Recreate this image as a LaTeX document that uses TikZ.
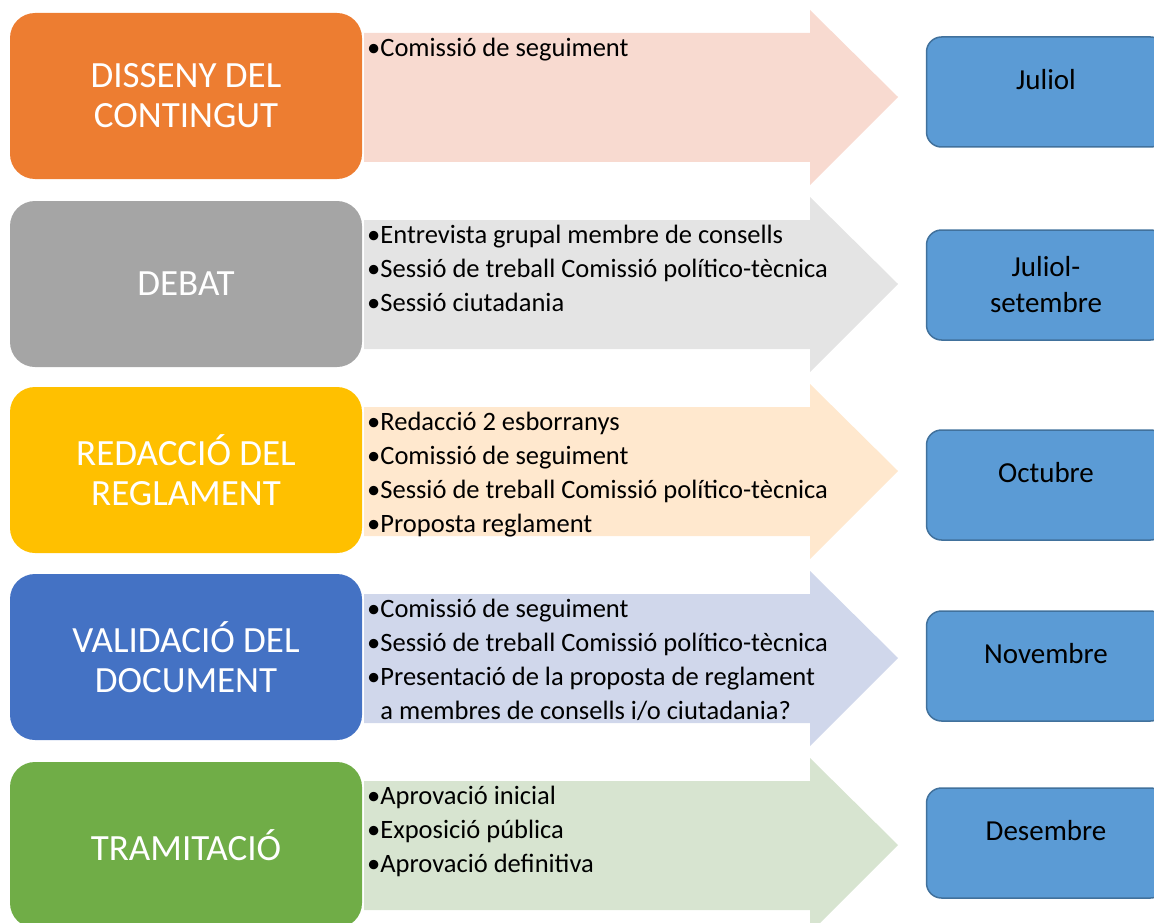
\documentclass[tikz,border=0pt]{standalone}
\usepackage{fontspec}
\setmainfont{Carlito}
\usetikzlibrary{positioning}
\definecolor{phaseO}{HTML}{ED7D31}
\definecolor{phaseG}{HTML}{A5A5A5}
\definecolor{phaseY}{HTML}{FFC000}
\definecolor{phaseB}{HTML}{4472C4}
\definecolor{phaseV}{HTML}{70AD47}
\definecolor{bodyO}{HTML}{F8DAD0}
\definecolor{bodyG}{HTML}{E4E4E4}
\definecolor{bodyY}{HTML}{FFE8CE}
\definecolor{bodyB}{HTML}{D0D7EB}
\definecolor{bodyV}{HTML}{D7E4D0}
\definecolor{monthFill}{HTML}{5B9BD5}
\definecolor{monthLine}{HTML}{41719C}
\tikzstyle{phaseNode} = [rectangle, minimum width=352pt, minimum height=166pt, rounded corners=25pt, text=white, align=center, font=\fontsize{37}{40}\selectfont]
\tikzstyle{phaseNodeO} = [phaseNode, fill=phaseO]
\tikzstyle{phaseNodeG} = [phaseNode, fill=phaseG]
\tikzstyle{phaseNodeY} = [phaseNode, fill=phaseY]
\tikzstyle{phaseNodeB} = [phaseNode, fill=phaseB]
\tikzstyle{phaseNodeV} = [phaseNode, fill=phaseV]
\tikzstyle{monthNode} = [rectangle, minimum width=239pt, minimum height=110pt, rounded corners=15pt, draw=monthLine, line width=1.5pt, fill=monthFill, align=center, font=\fontsize{29}{36}\selectfont]
\tikzstyle{taskNode} = [anchor=north west, align=left, inner sep=0pt, font=\fontsize{26.5}{34}\selectfont]

\begin{document}
\begin{tikzpicture}[x=1pt, y=-1pt]
    \useasboundingbox (0,0) rectangle (1154,923);

    % big arrows behind the boxes
    \fill[bodyO] (364,33) -- (810,33) -- (810,10) -- (898,97) -- (810,185) -- (810,162) -- (364,162) -- cycle;
    \fill[bodyG] (364,220) -- (810,220) -- (810,197) -- (898,284) -- (810,372) -- (810,349) -- (364,349) -- cycle;
    \fill[bodyY] (364,407) -- (810,407) -- (810,384) -- (898,471) -- (810,559) -- (810,536) -- (364,536) -- cycle;
    \fill[bodyB] (364,594) -- (810,594) -- (810,571) -- (898,658) -- (810,746) -- (810,723) -- (364,723) -- cycle;
    \fill[bodyV] (364,781) -- (810,781) -- (810,758) -- (898,845) -- (810,933) -- (810,910) -- (364,910) -- cycle;

    \node (disseny) [phaseNodeO] at (186,96) {DISSENY DEL\\CONTINGUT};
    \node (debat) [phaseNodeG] at (186,284) {DEBAT};
    \node (redaccio) [phaseNodeY] at (186,470) {REDACCIÓ DEL\\REGLAMENT};
    \node (validacio) [phaseNodeB] at (186,657) {VALIDACIÓ DEL\\DOCUMENT};
    \node (tramitacio) [phaseNodeV] at (186,845) {TRAMITACIÓ};

    \node (tDisseny) [taskNode] at (367,38) {\textbullet Comissió de seguiment};
    \node (tDebat) [taskNode] at (367,225) {\textbullet Entrevista grupal membre de consells\\\textbullet Sessió de treball Comissió político-tècnica\\\textbullet Sessió ciutadania};
    \node (tRedaccio) [taskNode] at (367,412) {\textbullet Redacció 2 esborranys\\\textbullet Comissió de seguiment\\\textbullet Sessió de treball Comissió político-tècnica\\\textbullet Proposta reglament};
    \node (tValidacio) [taskNode] at (367,599) {\textbullet Comissió de seguiment\\\textbullet Sessió de treball Comissió político-tècnica\\\textbullet Presentació de la proposta de reglament\\\phantom{\textbullet}a membres de consells i/o ciutadania?};
    \node (tTramitacio) [taskNode] at (367,786) {\textbullet Aprovació inicial\\\textbullet Exposició pública\\\textbullet Aprovació definitiva};

    \node (mJuliol) [monthNode] at (1046,92) {\raisebox{26pt}{Juliol}};
    \node (mSetembre) [monthNode] at (1046,285) {Juliol-\\setembre};
    \node (mOctubre) [monthNode] at (1046,485) {\raisebox{26pt}{Octubre}};
    \node (mNovembre) [monthNode] at (1046,666) {\raisebox{26pt}{Novembre}};
    \node (mDesembre) [monthNode] at (1046,843) {\raisebox{26pt}{Desembre}};
\end{tikzpicture}
\end{document}
